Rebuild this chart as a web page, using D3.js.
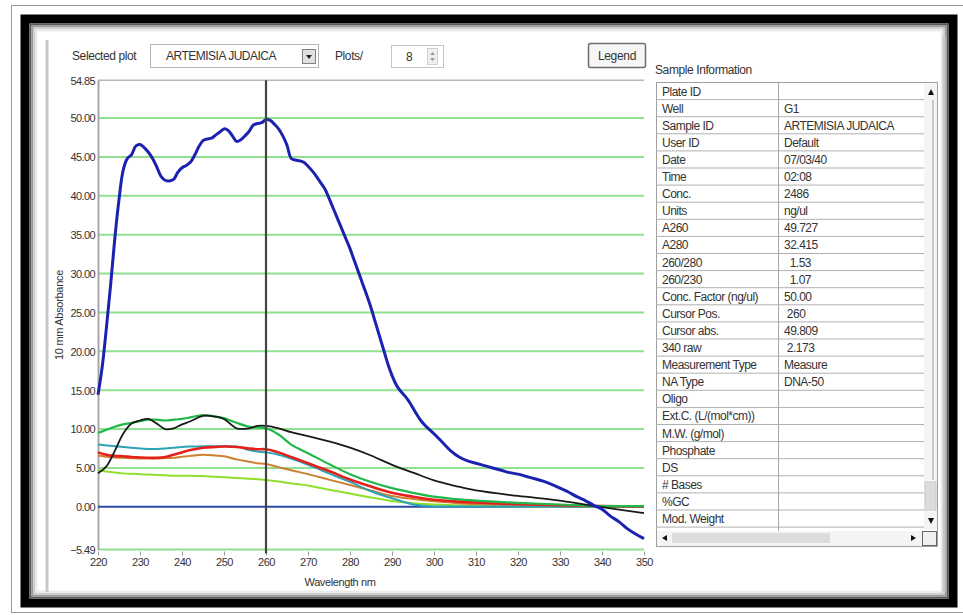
<!DOCTYPE html>
<html>
<head>
<meta charset="utf-8">
<script src="https://cdn.jsdelivr.net/npm/d3@7"></script>
<style>
  body { margin: 0; background: #fff; }
  svg text { font-family: "Liberation Sans", Arial, sans-serif; fill: #333; }
</style>
</head>
<body>
<script>
// Spectrum data (wavelength nm / absorbance)
const blueNm = [220,221,222,223,224,225,226,227,228,229,230,231,232,233,234,235,236,237,238,239,240,241,242,243,244,245,246,247,248,249,250,251,252,253,254,255,256,257,258,259,260,261,262,263,264,265,266,267,268,269,270,271,272,273,274,275,276,277,278,279,280,281,282,283,284,285,286,287,288,289,290,291,292,293,294,295,296,297,298,299,300,302,304,306,308,310,312,314,316,318,320,322,324,326,328,330,332,334,336,338,340,342,344,346,348,350];
const blueAbs = [14.4,18,23,28.5,34.5,39.5,43.3,44.8,45.3,46.4,46.6,46.2,45.6,44.8,43.7,42.5,42.0,41.9,42.1,43.0,43.6,43.9,44.3,45.2,46.3,47.1,47.3,47.4,47.8,48.2,48.6,48.4,47.7,47.0,47.2,47.7,48.3,49.1,49.3,49.4,49.8,49.7,49.2,48.6,47.7,46.5,44.8,44.6,44.5,44.3,43.8,43.2,42.5,41.7,40.9,39.7,38.4,37.1,35.8,34.5,33.2,31.7,30.2,28.7,27.2,25.6,23.8,22.0,20.2,18.4,16.9,15.7,14.9,14.3,13.6,12.7,11.8,11.0,10.4,9.9,9.4,8.3,7.2,6.4,5.9,5.6,5.3,5.0,4.7,4.4,4.2,3.9,3.6,3.3,2.9,2.4,1.9,1.3,0.8,0.2,-0.3,-1.2,-1.9,-2.8,-3.5,-4.1];

const nm = [220,222,224,226,228,230,232,234,236,238,240,242,245,248,250,253,256,258,260,263,266,270,275,280,285,290,295,300,305,310,320,330,340,350];
const blackAbs  = [4.3,5.2,7.2,9.4,10.7,11.1,11.3,10.7,10.0,10.1,10.6,11.0,11.7,11.6,11.3,10.1,10.1,10.4,10.4,10.1,9.6,9.1,8.4,7.6,6.6,5.4,4.4,3.4,2.7,2.1,1.4,0.8,-0.05,-0.8];
const greenAbs  = [9.5,9.9,10.3,10.6,10.8,11.0,11.2,11.2,11.1,11.2,11.3,11.5,11.8,11.6,11.4,10.8,10.3,10.2,10.1,9.3,8.0,6.9,5.5,4.2,3.2,2.4,1.8,1.3,1.0,0.8,0.5,0.3,0.1,0.1];
const tealAbs   = [8.0,7.9,7.8,7.7,7.6,7.5,7.45,7.45,7.5,7.6,7.7,7.75,7.8,7.8,7.8,7.75,7.3,7.1,7.0,6.7,6.2,5.4,4.3,3.2,2.0,1.1,0.3,0.05,0.05,0.05,0.05,0.05,0.05,0.05];
const redAbs    = [7.0,6.7,6.55,6.5,6.4,6.35,6.3,6.3,6.4,6.7,7.0,7.3,7.6,7.7,7.75,7.7,7.5,7.4,7.4,7.0,6.4,5.6,4.6,3.5,2.6,1.8,1.3,0.9,0.7,0.55,0.35,0.2,0.1,0.05];
const orangeAbs = [6.6,6.45,6.35,6.3,6.25,6.2,6.2,6.2,6.25,6.3,6.45,6.55,6.7,6.6,6.5,6.1,5.8,5.6,5.5,5.1,4.7,4.2,3.5,2.8,2.1,1.4,1.0,0.7,0.5,0.35,0.2,0.1,0.05,0.05];
const limeAbs   = [4.7,4.55,4.4,4.3,4.25,4.2,4.15,4.1,4.05,4.0,4.0,4.0,3.95,3.85,3.8,3.7,3.6,3.55,3.45,3.25,3.0,2.75,2.2,1.7,1.2,0.75,0.45,0.3,0.2,0.1,0.05,0.05,0.05,0.05];
const navyAbs   = nm.map(() => 0);

const yTicks = [-5.49,0,5,10,15,20,25,30,35,40,45,50,54.85];
const xTicks = [220,230,240,250,260,270,280,290,300,310,320,330,340,350];
const cursorNm = 260;

const infoLabels = ["Plate ID","Well","Sample ID","User ID","Date","Time","Conc.","Units","A260","A280","260/280","260/230","Conc. Factor (ng/ul)","Cursor Pos.","Cursor abs.","340 raw","Measurement Type","NA Type","Oligo","Ext.C. (L/(mol*cm))","M.W. (g/mol)","Phosphate","DS","# Bases","%GC","Mod. Weight"];
const infoValues = ["","G1","ARTEMISIA JUDAICA","Default","07/03/40","02:08","2486","ng/ul","49.727","32.415","  1.53","  1.07","50.00"," 260","49.809"," 2.173","Measure","DNA-50","","","","","","","",""];

const W = 963, H = 615;
const svg = d3.select("body").append("svg").attr("width", W).attr("height", H);

// ---- window frame
svg.append("rect").attr("x", 11.5).attr("y", 5.5).attr("width", 960).attr("height", 607)
  .attr("fill", "none").attr("stroke", "#9a9a9a");
svg.append("rect").attr("x", 25).attr("y", 19).attr("width", 928).attr("height", 584)
  .attr("fill", "none").attr("stroke", "#000").attr("stroke-width", 9);
// soft shadow just inside the black border
[["#5a5a5a", 30.5], ["#9a9a9a", 32.5], ["#cfcfcf", 34.5], ["#ebebeb", 36.5]].forEach((s, i) => {
  const inset = 1 + i * 2;
  svg.append("rect").attr("x", 29.5 + inset).attr("y", 23.5 + inset)
    .attr("width", 919 - 2 * inset).attr("height", 575 - 2 * inset)
    .attr("fill", "none").attr("stroke", s[0]).attr("stroke-width", 2);
});
svg.append("line").attr("x1", 47).attr("x2", 47).attr("y1", 40).attr("y2", 592)
  .attr("stroke", "#c8c8c8").attr("stroke-width", 3);
svg.append("line").attr("x1", 944).attr("x2", 944).attr("y1", 36).attr("y2", 592)
  .attr("stroke", "#c8c8c8").attr("stroke-width", 3);

// ---- top controls
svg.append("text").attr("x", 72).attr("y", 60).attr("font-size", 12).attr("letter-spacing", -0.4).text("Selected plot");
svg.append("rect").attr("x", 150.5).attr("y", 44.5).attr("width", 168).attr("height", 23)
  .attr("fill", "#fff").attr("stroke", "#b4b4b4");
svg.append("text").attr("x", 166).attr("y", 60).attr("font-size", 12).attr("letter-spacing", -0.5).text("ARTEMISIA JUDAICA");
svg.append("rect").attr("x", 302.5).attr("y", 49.5).attr("width", 13).attr("height", 14)
  .attr("fill", "#e0e0e0").attr("stroke", "#808080");
svg.append("path").attr("d", "M306,55 L312,55 L309,59 Z").attr("fill", "#222");
svg.append("text").attr("x", 335).attr("y", 60).attr("font-size", 12).attr("letter-spacing", -0.4).text("Plots/");
svg.append("rect").attr("x", 391.5).attr("y", 45.5).attr("width", 52).attr("height", 22)
  .attr("fill", "#fff").attr("stroke", "#c4c4c4");
svg.append("text").attr("x", 406).attr("y", 61).attr("font-size", 12).text("8");
svg.append("rect").attr("x", 427.5).attr("y", 48.5).attr("width", 10).attr("height", 16)
  .attr("fill", "#f0f0f0").attr("stroke", "#d0d0d0");
svg.append("path").attr("d", "M430,55 L435,55 L432.5,52 Z M430,58 L435,58 L432.5,61 Z").attr("fill", "#999");
svg.append("rect").attr("x", 588.5).attr("y", 43.5).attr("width", 57).attr("height", 24).attr("rx", 2)
  .attr("fill", "#f6f6f6").attr("stroke", "#6e6e6e").attr("stroke-width", 1.5);
svg.append("text").attr("x", 617).attr("y", 60).attr("text-anchor", "middle").attr("font-size", 12)
  .attr("letter-spacing", -0.3).text("Legend");

// ---- chart
const x = d3.scaleLinear().domain([220, 350]).range([98, 644]);
const y = d3.scaleLinear().domain([-5.49, 54.85]).range([549.5, 80.3]);

// grid lines
svg.append("g").selectAll("line")
  .data(yTicks.filter(v => v !== 0 && v !== 54.85))
  .join("line")
  .attr("x1", x(220)).attr("x2", x(350))
  .attr("y1", d => y(d)).attr("y2", d => y(d))
  .attr("stroke", "#8fe08f").attr("stroke-width", 2);

// top border of plot
svg.append("line").attr("x1", x(220)).attr("x2", x(350)).attr("y1", y(54.85)).attr("y2", y(54.85))
  .attr("stroke", "#b8b8b8").attr("stroke-width", 1.5);

const yAxis = svg.append("g").attr("transform", `translate(${x(220)},0)`)
  .call(d3.axisLeft(y).tickValues(yTicks).tickFormat(d3.format(".2f")).tickSize(0).tickPadding(3));
yAxis.select(".domain").attr("stroke", "#a8a8a8").attr("stroke-width", 2);
yAxis.selectAll("text").attr("font-size", 11).attr("letter-spacing", -0.6).attr("fill", "#333").attr("dy", "0.35em");

const xAxis = svg.append("g").attr("transform", `translate(0,${y(-5.49) + 2})`)
  .call(d3.axisBottom(x).tickValues(xTicks).tickFormat(d3.format("d")).tickSize(4).tickPadding(3));
xAxis.select(".domain").remove();
xAxis.selectAll("line").attr("stroke", "#999");
xAxis.selectAll("text").attr("font-size", 11).attr("letter-spacing", -0.5).attr("fill", "#333");

svg.append("text").attr("x", 340).attr("y", 586).attr("text-anchor", "middle").attr("font-size", 11)
  .attr("letter-spacing", -0.4).text("Wavelength nm");
svg.append("text").attr("transform", "translate(63,315) rotate(-90)").attr("text-anchor", "middle")
  .attr("font-size", 11).attr("letter-spacing", -0.3).text("10 mm Absorbance");

// series
const line = d3.line().x(d => x(d[0])).y(d => y(d[1])).curve(d3.curveCatmullRom);
const series = [
  { vals: navyAbs, color: "#2a4aa8", w: 2 },
  { vals: limeAbs, color: "#8ee02a", w: 2 },
  { vals: orangeAbs, color: "#cd7f32", w: 2 },
  { vals: tealAbs, color: "#2aa3b5", w: 2 },
  { vals: redAbs, color: "#e4201c", w: 2.6 },
  { vals: greenAbs, color: "#20b84a", w: 2.2 },
  { vals: blackAbs, color: "#1a1a1a", w: 1.8 }
];
svg.append("g").selectAll("path")
  .data(series)
  .join("path")
  .attr("fill", "none")
  .attr("stroke", d => d.color)
  .attr("stroke-width", d => d.w)
  .attr("d", d => line(nm.map((n, i) => [n, d.vals[i]])));

svg.append("path")
  .attr("fill", "none").attr("stroke", "#1c22b0").attr("stroke-width", 3)
  .attr("d", line(blueNm.map((n, i) => [n, blueAbs[i]])));

// cursor
svg.append("line").attr("x1", x(cursorNm)).attr("x2", x(cursorNm))
  .attr("y1", y(54.85)).attr("y2", y(-5.49) + 4)
  .attr("stroke", "#444").attr("stroke-width", 2.2);

// ---- sample information table
svg.append("text").attr("x", 655).attr("y", 74).attr("font-size", 12).attr("letter-spacing", -0.4).text("Sample Information");
const tX = 656, tY = 82.5, rowH = 17.1, colX = 778, tRight = 924;
svg.append("rect").attr("x", tX + 0.5).attr("y", tY).attr("width", 281).attr("height", 464)
  .attr("fill", "#fff").attr("stroke", "#a0a0a0");
const rows = svg.append("g");
infoLabels.forEach((lab, i) => {
  const ry = tY + i * rowH;
  rows.append("line").attr("x1", tX).attr("x2", tRight).attr("y1", ry + rowH).attr("y2", ry + rowH)
    .attr("stroke", "#b0b0b0");
  rows.append("text").attr("x", tX + 6).attr("y", ry + 13).attr("font-size", 12)
    .attr("letter-spacing", -0.5).text(lab);
  rows.append("text").attr("x", colX + 6).attr("y", ry + 13).attr("font-size", 12)
    .attr("letter-spacing", -0.5).style("white-space", "pre").text(infoValues[i]);
});
rows.append("line").attr("x1", colX + 0.5).attr("x2", colX + 0.5).attr("y1", tY).attr("y2", 531)
  .attr("stroke", "#a8a8a8");
// vertical scrollbar
svg.append("rect").attr("x", tRight).attr("y", tY + 1).attr("width", 13).attr("height", 446).attr("fill", "#f4f4f4");
svg.append("line").attr("x1", tRight + 9).attr("x2", tRight + 9).attr("y1", 100).attr("y2", 480).attr("stroke", "#c8c8c8").attr("stroke-width", 2);
svg.append("rect").attr("x", tRight + 1).attr("y", 482).attr("width", 11).attr("height", 28).attr("fill", "#dcdcdc").attr("stroke", "#c8c8c8");
svg.append("path").attr("d", `M${tRight + 4},95 L${tRight + 10},95 L${tRight + 7},89 Z`).attr("fill", "#111");
svg.append("path").attr("d", `M${tRight + 4},518 L${tRight + 10},518 L${tRight + 7},524 Z`).attr("fill", "#111");
// horizontal scrollbar
svg.append("rect").attr("x", tX + 1).attr("y", 531).attr("width", 280).attr("height", 15).attr("fill", "#f4f4f4");
svg.append("rect").attr("x", 672).attr("y", 533).attr("width", 158).attr("height", 10).attr("fill", "#dcdcdc");
svg.append("path").attr("d", "M662,538 L667,535 L667,541 Z").attr("fill", "#111");
svg.append("path").attr("d", "M916,538 L911,535 L911,541 Z").attr("fill", "#111");
svg.append("rect").attr("x", 922.5).attr("y", 531.5).attr("width", 14).attr("height", 14)
  .attr("fill", "#f0f0f0").attr("stroke", "#666");
</script>
</body>
</html>
